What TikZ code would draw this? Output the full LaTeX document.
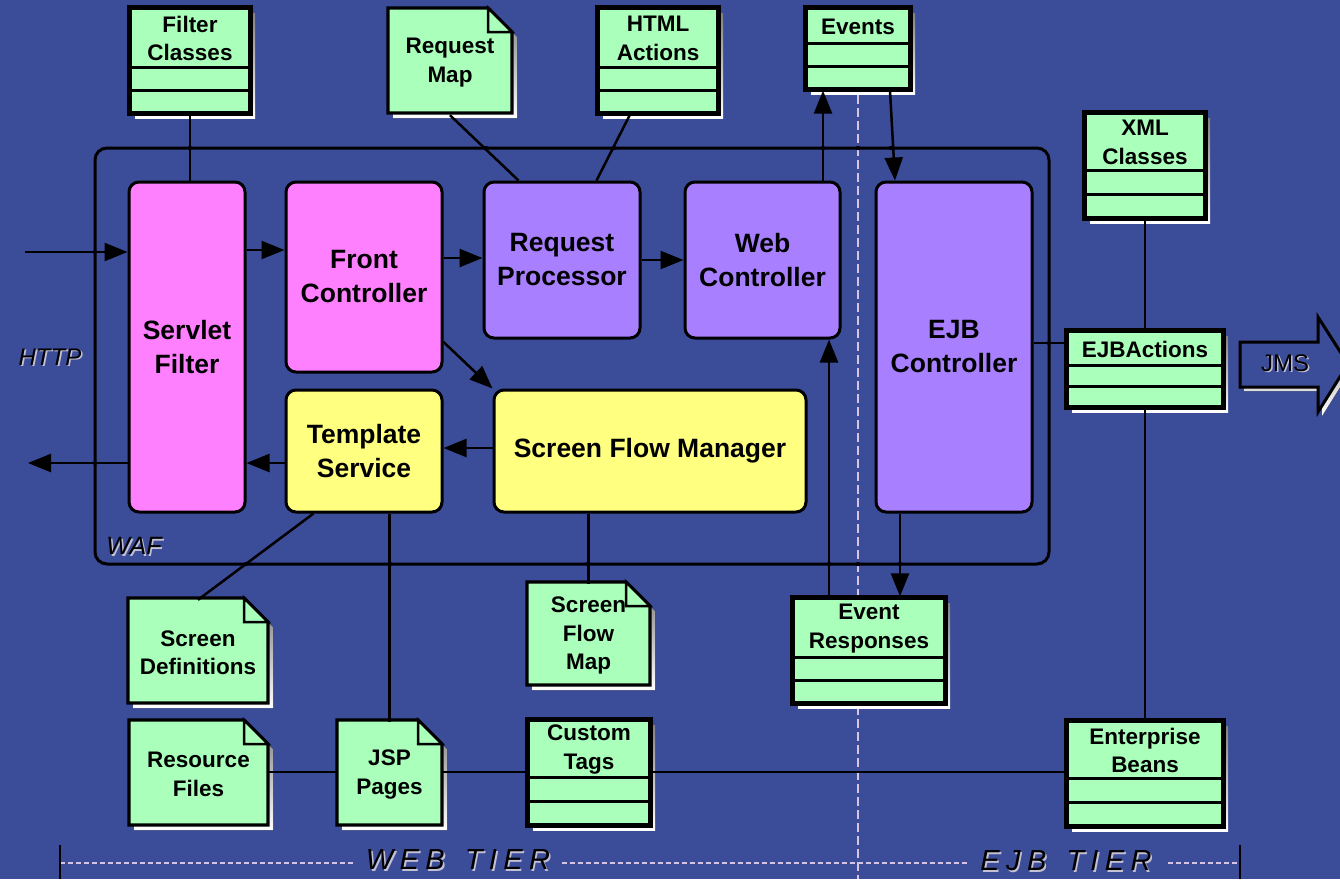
\documentclass[tikz,border=0pt]{standalone}
\usepackage{fontspec}
\setmainfont{Liberation Sans}
\newfontfamily\tierfont{Liberation Sans}[LetterSpace=22]
\usetikzlibrary{arrows.meta}

\definecolor{bgblue}{RGB}{59,76,152}
\definecolor{mint}{RGB}{170,255,187}
\definecolor{pinkbox}{RGB}{255,128,255}
\definecolor{violetbox}{RGB}{168,128,255}
\definecolor{lemon}{RGB}{255,255,128}
\definecolor{shade}{RGB}{196,192,212}
\definecolor{tierline}{RGB}{214,196,226}

\tikzset{
  compbox/.style={draw=black, line width=3pt, rounded corners=10pt, inner sep=0pt,
    align=center, font=\fontsize{26.5}{34}\selectfont\bfseries},
  classbox/.style={draw=black, fill=mint, line width=3.2pt, inner sep=0pt},
  compart/.style={draw=black, line width=3pt},
  boxlabel/.style={inner sep=0pt, align=center, font=\fontsize{22.5}{28.5}\selectfont\bfseries},
  notebody/.style={draw=black, fill=mint, line width=3.2pt, line join=miter},
  conn/.style={draw=black, line width=2.5pt},
  arr/.style={conn, -{Triangle[length=23pt,width=18pt]}},
  wafbox/.style={draw=black, line width=3pt, rounded corners=12pt, inner sep=0pt},
  joint/.style={fill=black},
  halo/.style={text=shade, inner sep=0pt},
  plain/.style={text=black, inner sep=0pt},
}

% rounded component box: name, x1, y1, x2, y2, fill, label
\newcommand\component[7]{%
  \node[compbox, fill=#6, minimum width={#4pt-#2pt}, minimum height={#5pt-#3pt}]
    (#1) at ({(#2+#4)/2},{(#3+#5)/2}) {#7};}

% class box with header and two compartments: name, x1, y1, x2, y2, header bottom, label
\newcommand\umlclass[7]{%
  \fill[shade] (#2+5,#3+5) rectangle (#4+5,#5+5);
  \node[classbox, minimum width={#4pt-#2pt}, minimum height={#5pt-#3pt}]
    (#1) at ({(#2+#4)/2},{(#3+#5)/2}) {};
  \node[boxlabel] (#1-label) at ({(#2+#4)/2},{(#3+#6)/2+1}) {#7};
  \draw[compart] (#2,#6) -- (#4,#6) (#2,{(#6+#5)/2}) -- (#4,{(#6+#5)/2});
  \draw[line width=3.2pt] (#1.south west) rectangle (#1.north east);}

% note with folded corner: name, x1, y1, x2, y2, label
\newcommand\umlnote[6]{%
  \fill[shade] (#2+5,#3+5) -- (#4-19,#3+5) -- (#4+5,#3+29) -- (#4+5,#5+5) -- (#2+5,#5+5) -- cycle;
  \path[notebody] (#2,#3) -- (#4-24,#3) -- (#4,#3+24) -- (#4,#5) -- (#2,#5) -- cycle;
  \node[boxlabel, minimum width={#4pt-#2pt}, minimum height={#5pt-#3pt}]
    (#1) at ({(#2+#4)/2},{(#3+#5)/2+2}) {#6};
  \path[notebody, line width=2.5pt] (#4-24,#3) -- (#4-24,#3+24) -- (#4,#3+24) -- cycle;}

% text with a pale offset halo: name, x, y, font, text
\newcommand\halotext[5]{%
  \node[halo, font=#4] (#1-halo) at (#2+1.6,#3+1.6) {#5};
  \node[plain, font=#4] (#1) at (#2,#3) {#5};}

\begin{document}
\begin{tikzpicture}[x=1pt, y=-1pt]
  \path[use as bounding box, clip] (0,0) rectangle (1340,879);
  \fill[bgblue] (0,0) rectangle (1340,879);

  % WAF container
  \node[wafbox, minimum width=954pt, minimum height=416pt] (waf) at (572,356) {};

  % tier separator and tier scale
  \draw[tierline, line width=1.6pt, dash pattern=on 9pt off 4pt] (858,95) -- (858,879);
  \draw[tierline, line width=1.5pt, dash pattern=on 5pt off 3pt]
    (60,863) -- (355,863) (562,863) -- (968,863) (1168,863) -- (1240,863);
  \draw[black, line width=2pt] (60,845) -- (60,879) (1240,845) -- (1240,879);
  \halotext{webtier}{458}{860}{\tierfont\itshape\fontsize{29}{29}\selectfont}{WEB\kern20pt TIER}
  \halotext{ejbtier}{1066}{861}{\tierfont\itshape\fontsize{29}{29}\selectfont}{EJB\kern20pt TIER}

  % web tier components
  \component{sf}{129}{182}{245}{512}{pinkbox}{Servlet\\Filter}
  \component{fc}{286}{182}{442}{372}{pinkbox}{Front\\Controller}
  \component{rp}{484}{182}{640}{338}{violetbox}{Request\\Processor}
  \component{wc}{685}{182}{840}{338}{violetbox}{Web\\Controller}
  \component{ts}{286}{390}{442}{512}{lemon}{Template\\Service}
  \component{sfm}{494}{390}{806}{512}{lemon}{Screen Flow Manager}
  % ejb tier component
  \component{ejb}{876}{182}{1032}{512}{violetbox}{EJB\\Controller}

  % classes
  \umlclass{fcls}{130}{8}{250}{113}{67}{Filter\\Classes}
  \umlclass{html}{598}{8}{718}{113}{67}{HTML\\Actions}
  \umlclass{ev}{806}{8}{910}{89}{43}{Events}
  \umlclass{xml}{1085}{113}{1205}{218}{170}{XML\\Classes}
  \umlclass{ea}{1067}{331}{1223}{407}{365}{EJBActions}
  \umlclass{er}{793}{598}{945}{703}{657}{Event\\Responses}
  \umlclass{ct}{528}{720}{650}{825}{777}{Custom\\Tags}
  \umlclass{eb}{1067}{721}{1223}{826}{778}{Enterprise\\Beans}

  % documents
  \umlnote{rm}{388}{8}{512}{113}{Request\\Map}
  \umlnote{sd}{128}{598}{268}{703}{Screen\\Definitions}
  \umlnote{sfmap}{527}{582}{650}{685}{Screen\\Flow\\Map}
  \umlnote{rf}{129}{720}{268}{825}{Resource\\Files}
  \umlnote{jsp}{337}{720}{442}{825}{JSP\\Pages}

  % JMS outlet
  \fill[shade] (1244,346) -- (1322,346) -- (1322,321) -- (1352,368) -- (1322,416) -- (1322,391) -- (1244,391) -- cycle;
  \filldraw[fill=bgblue, draw=black, line width=3pt]
    (1240,342) -- (1318,342) -- (1318,317) -- (1348,364) -- (1318,412) -- (1318,387) -- (1240,387) -- cycle;
  \halotext{jms}{1285}{363}{\fontsize{24}{24}\selectfont}{JMS}

  % request path
  \coordinate (httpin) at (25,252);
  \coordinate (httpout) at (28,463);
  \draw[arr] (httpin) -- (httpin -| sf.west);
  \draw[arr] (sf.west |- httpout) -- (httpout);
  \draw[arr] (sf.east |- 0,250) -- (fc.west |- 0,250);
  \draw[arr] (fc.east |- 0,258) -- (rp.west |- 0,258);
  \draw[arr] (rp.east) -- (wc.west);
  \draw[arr] (fc.east |- 0,342) -- (sfm.north west);
  \draw[arr] (sfm.west |- 0,448) -- (ts.east |- 0,448);
  \draw[arr] (ts.west |- 0,463) -- (sf.east |- 0,463);

  % events between web and ejb tiers
  \draw[arr] (wc.north -| 823,0) -- (ev.south -| 823,0);
  \draw[arr] (ev.south -| 890,0) -- (ejb.north -| 895,0);
  \draw[arr] (er.north -| 829,0) -- (wc.south -| 829,0);
  \draw[arr] (ejb.south -| 900,0) -- (er.north -| 900,0);

  % associations
  \draw[conn] (fcls.south) -- (fcls.south |- sf.north);
  \draw[conn] (rm.south) -- ([xshift=36pt]rp.north west);
  \draw[conn] ([xshift=-28pt]html.south) -- ([xshift=114pt]rp.north west);
  \draw[conn] (ejb.east |- 0,343) -- (ea.west |- 0,343);
  \draw[conn] (xml.south) -- (ea.north);
  \draw[conn] (ea.south) -- (eb.north);
  \draw[conn] ([xshift=29pt]ts.south west) -- (sd.north);
  \draw[conn] (jsp.north |- ts.south) -- (jsp.north);
  \draw[conn] (sfmap.north |- sfm.south) -- (sfmap.north);
  \draw[conn] (rf.east |- 0,772) -- (jsp.west |- 0,772);
  \draw[conn] (jsp.east |- 0,772) -- (ct.west |- 0,772);
  \draw[conn] (ct.east |- 0,772) -- (eb.west |- 0,772);

  % junctions on the WAF border
  \foreach \p in {(190,148),(486,148),(614,148),(823,148),(858,148),(891,148),
                  (95,252),(95,463),(1049,343),
                  (246,564),(390,564),(588,564),(829,564),(858,564),(900,564)}
    \fill[joint] \p circle (2.2pt);

  % labels
  \halotext{http}{50}{357}{\itshape\fontsize{24}{24}\selectfont}{HTTP}
  \halotext{waflabel}{134}{546}{\itshape\fontsize{25}{25}\selectfont}{WAF}
\end{tikzpicture}
\end{document}
